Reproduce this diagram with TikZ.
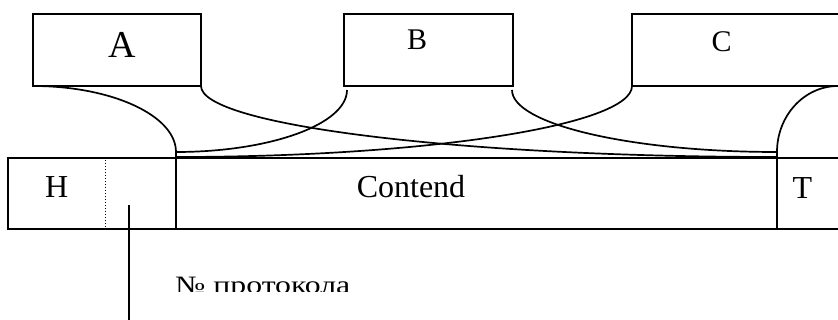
\documentclass[tikz,border=0pt]{standalone}
\usepackage{fontspec}
\setmainfont{Liberation Serif}
\begin{document}
\begin{tikzpicture}[x=1pt,y=-1pt,
  frame/.style={draw,line width=1.9pt,rectangle,inner sep=0pt,outer sep=0pt},
  link/.style={line width=1.7pt},
  big/.style={inner sep=0pt,anchor=base,font=\fontsize{38}{40}\selectfont},
  mid/.style={inner sep=0pt,anchor=base,font=\fontsize{30}{32}\selectfont},
  cell/.style={inner sep=0pt,anchor=base,font=\fontsize{32}{34}\selectfont}]
\useasboundingbox (0,0) rectangle (838,320);
\clip (0,0) rectangle (838,320);

% upper boxes
\node[frame,minimum width=168pt,minimum height=72pt] (A) at (117,50) {};
\node[frame,minimum width=169pt,minimum height=72pt] (B) at (428.5,50) {};
\node[frame,minimum width=268pt,minimum height=72pt] (C) at (766,50) {};
\node[big] (tA) at (122.5,58) {A};
\node[mid] (tB) at (417,50) {B};
\node[mid] (tC) at (721.5,52) {C};

% frame strip
\node[frame,minimum width=892pt,minimum height=71pt] (bar) at (454,193.5) {};
\coordinate (hd) at (176,152);
\coordinate (td) at (777,152);
\coordinate (hb) at (176,157);
\coordinate (tb) at (777,157);
\draw[line width=1.9pt] (hd) -- (hd |- bar.south);
\draw[line width=1.9pt] (td) -- (td |- bar.south);
\coordinate (dt) at (105,160);
\coordinate (db) at (105,227);
\draw[line width=1pt,dotted] (dt) -- (db);
\node[cell] (tH) at (56.7,198) {H};
\node[cell] (tM) at (411,198) {Contend};
\node[cell] (tT) at (802.5,199) {T};

% mapping curves
\coordinate (bl) at (347,90);
\coordinate (br) at (512,90);
\coordinate (cr) at (838,86);
\draw[link] (A.south west) .. controls (112,86) and (176,115.6) .. (hd);
\draw[link] (A.south east) .. controls (201,125.2) and (458.9,157) .. (tb);
\draw[link] (bl) .. controls (347,124.2) and (270.4,152) .. (hd);
\draw[link] (br) .. controls (512,124.2) and (630.7,152) .. (td);
\draw[link] (C.south west) .. controls (632,125.2) and (427.8,157) .. (hb);
\draw[link] (cr) .. controls (804.3,86) and (777,115.6) .. (td);

% protocol field pointer
\coordinate (pf) at (129,205);
\coordinate (pe) at (129,320);
\draw[line width=1.7pt] (pf) -- (pe);
\begin{scope}
  \clip (150,262) rectangle (420,292);
  \node[inner sep=0pt,anchor=base west,font=\fontsize{25}{27}\selectfont] (proto) at (175,294) {\scalebox{1.27}[1]{№ протокола}};
\end{scope}
\end{tikzpicture}
\end{document}
